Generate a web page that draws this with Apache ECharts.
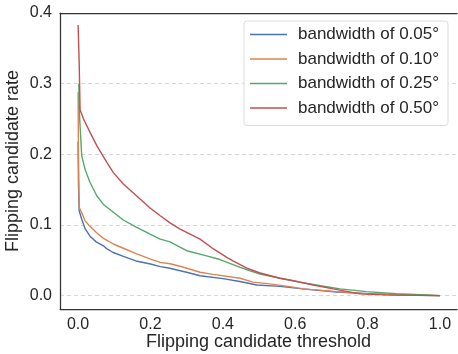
<!DOCTYPE html>
<html>
<head>
<meta charset="utf-8">
<script src="https://cdn.jsdelivr.net/npm/echarts@6/dist/echarts.min.js"></script>
<style>html,body{margin:0;padding:0;background:#fff}#c{width:458px;height:354px}</style>
</head>
<body>
<div id="c"></div>
<script>
const seriesNames = ['bandwidth of 0.05°', 'bandwidth of 0.10°', 'bandwidth of 0.25°', 'bandwidth of 0.50°'];
const xTicks = [0, 0.2, 0.4, 0.6, 0.8, 1.0];
const yTicks = [0, 0.1, 0.2, 0.3, 0.4];

const bw005 = [[0,0.218],[0.001,0.16],[0.003,0.12],[0.01,0.108],[0.02,0.094],[0.033,0.084],[0.05,0.076],[0.07,0.0705],[0.08,0.066],[0.097,0.061],[0.125,0.0556],[0.16,0.049],[0.2,0.0447],[0.227,0.041],[0.25,0.039],[0.3,0.033],[0.337,0.028],[0.4,0.024],[0.447,0.020],[0.494,0.015],[0.558,0.013],[0.62,0.0095],[0.714,0.005],[0.8,0.0028],[0.853,0.0015],[0.93,0.0005],[1.0,0.0]];
const bw010 = [[0,0.288],[0.001,0.2],[0.003,0.125],[0.012,0.115],[0.019,0.106],[0.033,0.098],[0.052,0.0885],[0.07,0.081],[0.0975,0.073],[0.125,0.067],[0.162,0.059],[0.199,0.052],[0.227,0.047],[0.254,0.045],[0.282,0.0415],[0.337,0.033],[0.373,0.0300],[0.448,0.0245],[0.483,0.019],[0.53,0.0165],[0.594,0.012],[0.622,0.0095],[0.715,0.0056],[0.807,0.0024],[0.9,0.0008],[1.0,0.0]];
const bw025 = [[0.002,0.30],[0.003,0.27],[0.0045,0.249],[0.01,0.198],[0.019,0.179],[0.033,0.160],[0.052,0.141],[0.07,0.129],[0.0975,0.118],[0.125,0.107],[0.162,0.0965],[0.199,0.087],[0.227,0.080],[0.254,0.076],[0.3,0.0635],[0.35,0.057],[0.392,0.051],[0.448,0.040],[0.475,0.035],[0.503,0.0306],[0.558,0.0245],[0.613,0.019],[0.67,0.014],[0.724,0.0095],[0.797,0.0056],[0.88,0.0025],[0.963,0.001],[1.0,0.0]];
const bw050 = [[0,0.383],[0.003,0.33],[0.0055,0.263],[0.015,0.25],[0.033,0.231],[0.052,0.212],[0.079,0.189],[0.0975,0.174],[0.125,0.158],[0.162,0.141],[0.199,0.124],[0.227,0.113],[0.254,0.103],[0.282,0.094],[0.337,0.080],[0.374,0.066],[0.411,0.054],[0.428,0.049],[0.466,0.0387],[0.503,0.032],[0.558,0.0245],[0.595,0.021],[0.65,0.015],[0.705,0.0095],[0.779,0.0024],[0.85,0.001],[1.0,0.0]];
const seriesData = [bw005, bw010, bw025, bw050];
const colors = ['#4C72B0', '#DD8452', '#55A868', '#C44E52'];

const chart = echarts.init(document.getElementById('c'), null, {renderer: 'canvas'});
const font = 'Liberation Sans, Arial, sans-serif';
chart.setOption({
  animation: false,
  color: colors,
  grid: {left: 60, top: 13, right: 1, bottom: 45, containLabel: false, outerBoundsMode: 'none'},
  legend: {
    orient: 'vertical', left: 244, top: 21,
    icon: 'rect', itemWidth: 37, itemHeight: 1.5, itemGap: 7.5,
    padding: [5, 9, 9, 6],
    borderColor: '#dcdcdc', borderWidth: 1, borderRadius: 3, backgroundColor: '#fff',
    textStyle: {fontFamily: font, fontSize: 17, color: '#262626', lineHeight: 17, padding: [0,0,0,6]},
    data: seriesNames
  },
  xAxis: [{
    type: 'value', min: -0.05, max: 1.047, position: 'bottom',
    name: 'Flipping candidate threshold', nameLocation: 'middle', nameGap: 24, nameMoveOverlap: false,
    nameTextStyle: {fontFamily: font, fontSize: 18, color: '#262626'},
    axisLine: {show: true, onZero: false, lineStyle: {color: '#333', width: 1.25}},
    axisTick: {show: false, customValues: xTicks},
    axisLabel: {customValues: xTicks, fontFamily: font, fontSize: 16, color: '#262626', margin: 8, formatter: v => v.toFixed(1)},
    splitLine: {show: false}
  }, {
    type: 'value', min: -0.05, max: 1.047, position: 'top',
    axisLine: {show: true, onZero: false, lineStyle: {color: '#333', width: 1.25}},
    axisTick: {show: false}, axisLabel: {show: false}, splitLine: {show: false}
  }],
  yAxis: {
    type: 'value', min: -0.019, max: 0.4,
    name: 'Flipping candidate rate', nameLocation: 'middle', nameGap: 38, nameMoveOverlap: false,
    nameTextStyle: {fontFamily: font, fontSize: 18, color: '#262626'},
    axisLine: {show: true, onZero: false, lineStyle: {color: '#333', width: 1.25}},
    axisTick: {show: false, customValues: yTicks},
    axisLabel: {customValues: yTicks, fontFamily: font, fontSize: 16, color: '#262626', margin: 8, formatter: v => v.toFixed(1)},
    splitLine: {show: true, lineStyle: {color: '#cccccc', type: [4, 3], width: 0.8}}
  },
  series: seriesNames.map((n, i) => ({
    name: n, type: 'line', data: seriesData[i], symbol: 'none', smooth: false,
    lineStyle: {width: 1.4, color: colors[i]}, z: 2 + i
  }))
});
</script>
</body>
</html>
